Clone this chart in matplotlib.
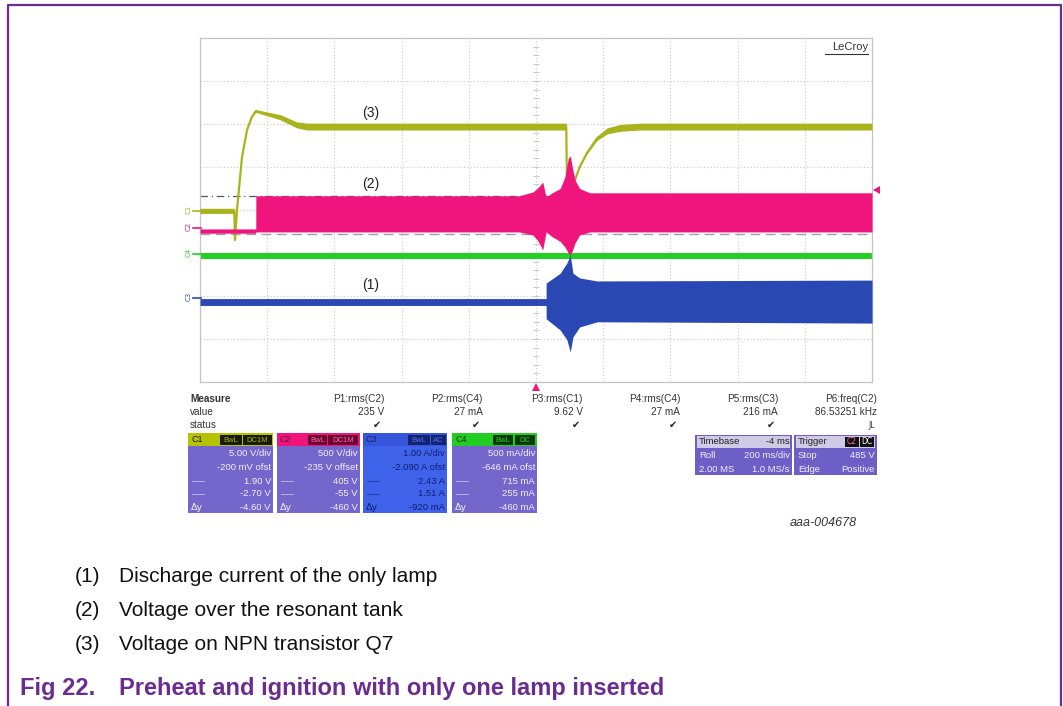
import matplotlib
matplotlib.use('Agg')
import matplotlib.pyplot as plt
from matplotlib.patches import Rectangle, Polygon
from matplotlib import font_manager

# scope traces, in screen divisions (x 0..10, y 0..8)
# (3) C1: voltage on NPN transistor Q7
c1_x = [0, 0.51, 0.52, 0.55, 0.625, 0.70, 0.77, 0.83, 1.19, 1.44, 1.59, 5.45,
        5.46, 5.48, 5.58, 5.65, 5.76, 5.91, 6.06, 6.25, 6.55, 10]
c1_y = [3.98, 3.98, 3.30, 4.00, 5.23, 5.86, 6.16, 6.30, 6.16, 5.98, 5.94, 5.94,
        4.74, 4.58, 4.70, 5.00, 5.33, 5.67, 5.84, 5.91, 5.94, 5.94]
c1_noise = [0.06, 0.06, 0, 0, 0, 0, 0.01, 0.03, 0.06, 0.07, 0.08, 0.08,
            0, 0, 0, 0, 0.02, 0.05, 0.07, 0.08, 0.08, 0.08]

# (2) C2: voltage over the resonant tank (envelope)
c2_x = [0, 0.83, 0.831, 4.75, 4.955, 5.03, 5.10, 5.15, 5.24, 5.36, 5.43, 5.48,
        5.51, 5.54, 5.58, 5.65, 5.80, 10]
c2_top = [3.56, 3.56, 4.33, 4.33, 4.42, 4.52, 4.65, 4.30, 4.40, 4.50, 4.77, 5.20,
          5.26, 5.00, 4.70, 4.50, 4.40, 4.40]
c2_bot = [3.46, 3.46, 3.49, 3.49, 3.42, 3.28, 3.07, 3.49, 3.38, 3.27, 3.14, 3.00,
          2.95, 3.05, 3.23, 3.42, 3.49, 3.49]

# C4 (green)
c4_x = [0, 10]
c4_top = [3.01, 3.01]
c4_bot = [2.87, 2.87]

# (1) C3: discharge current of the only lamp (envelope)
c3_x = [0, 5.15, 5.151, 5.36, 5.46, 5.51, 5.55, 5.65, 5.91, 10]
c3_top = [1.94, 1.94, 2.30, 2.53, 2.77, 2.95, 2.53, 2.42, 2.35, 2.37]
c3_bot = [1.78, 1.78, 1.47, 1.21, 0.98, 0.70, 1.05, 1.28, 1.40, 1.37]

# measurement table
meas_names = ['P1:rms(C2)', 'P2:rms(C4)', 'P3:rms(C1)', 'P4:rms(C4)', 'P5:rms(C3)', 'P6:freq(C2)']
meas_values = ['235 V', '27 mA', '9.62 V', '27 mA', '216 mA', '86.53251 kHz']

chan_rows = {
    'C1': ['5.00 V/div', '-200 mV ofst', '1.90 V', '-2.70 V', '-4.60 V'],
    'C2': ['500 V/div', '-235 V offset', '405 V', '-55 V', '-460 V'],
    'C3': ['1.00 A/div', '-2.090 A ofst', '2.43 A', '1.51 A', '-920 mA'],
    'C4': ['500 mA/div', '-646 mA ofst', '715 mA', '255 mA', '-460 mA'],
}

captions = ['Discharge current of the only lamp', 'Voltage over the resonant tank',
            'Voltage on NPN transistor Q7']

YEL = '#a9b41c'
PINK = '#f0157c'
GREEN = '#22d022'
BLUE = '#2a48b4'
PURPLE = '#6a2c91'

names = [f.name for f in font_manager.fontManager.ttflist]
narrow = 'Liberation Sans Narrow' if 'Liberation Sans Narrow' in names else 'Liberation Sans'
cap_size = 17 if narrow == 'Liberation Sans Narrow' else 15
title_size = 20 if narrow == 'Liberation Sans Narrow' else 17

W, H = 1063, 706
fig = plt.figure(figsize=(W / 100, H / 100), dpi=100)


def px_rect(l, t, r, b):
    return [l / W, 1 - b / H, (r - l) / W, (b - t) / H]


# ---- scope screen ----
ax = fig.add_axes(px_rect(200, 38, 872, 382))
ax.set_xlim(0, 10)
ax.set_ylim(0, 8)
ax.set_xticks([])
ax.set_yticks([])
for s in ax.spines.values():
    s.set_color('#c4c4c4')
    s.set_linewidth(0.9)
for i in range(1, 10):
    ax.axvline(i, color='#c8c8c8', lw=0.8, ls=(0, (1, 2)), zorder=0)
for i in range(1, 8):
    ax.axhline(i, color='#c8c8c8', lw=0.8, ls=(0, (1, 2)), zorder=0)
ax.hlines([k * 0.2 for k in range(41)], 4.95, 5.05, color='#c0c0c0', lw=0.6, zorder=0)

# cursors
ax.axhline(4.33, color='#555555', lw=0.9, ls=(0, (6, 3, 1, 3)), zorder=1)
ax.axhline(3.44, color='#a0a0a0', lw=1.0, ls=(0, (7, 4)), zorder=1)

ax.fill_between(c4_x, c4_bot, c4_top, color=GREEN, lw=0, zorder=2)
ax.fill_between(c3_x, c3_bot, c3_top, color=BLUE, lw=0, zorder=3)
ax.plot(c1_x, c1_y, color=YEL, lw=1.6, zorder=4)
ax.fill_between(c1_x, [y - n for y, n in zip(c1_y, c1_noise)],
                [y + n for y, n in zip(c1_y, c1_noise)], color=YEL, lw=0, zorder=4)
ax.fill_between(c2_x, c2_bot, c2_top, color=PINK, lw=0, zorder=5)

# ---- overlay in pixel coordinates ----
ov = fig.add_axes([0, 0, 1, 1])
ov.set_xlim(0, W)
ov.set_ylim(H, 0)
ov.axis('off')

# page frame
ov.plot([8, 8, 1061, 1061], [706, 5, 5, 706], color=PURPLE, lw=1.6)

# trace labels
for lab, y in [('(3)', 113), ('(2)', 184), ('(1)', 285)]:
    ov.text(371, y, lab, fontsize=10, ha='center', va='center', color='#222222',
            family='Liberation Sans')
ov.text(868, 47, 'LeCroy', fontsize=8, ha='right', va='center', color='#333333',
        family='Liberation Sans')
ov.plot([825, 868], [54, 54], color='#333333', lw=0.8)

# channel markers on the left
for lab, y, c in [('C1', 209, YEL), ('C2', 226, PINK), ('C4', 252, GREEN), ('C3', 296, BLUE)]:
    ov.text(189, y, lab, fontsize=5, rotation=90, ha='center', va='center', color=c)
    ov.plot([193, 201], [y + 2, y + 2], color=c, lw=1.2)

# trigger markers
ov.add_patch(Polygon([[873, 190], [880, 186], [880, 194]], closed=True, color=PINK, lw=0))
ov.add_patch(Polygon([[536, 383], [532, 391], [540, 391]], closed=True, color=PINK, lw=0))

# measurement table
mfont = dict(fontsize=7.2, color='#333333', family='Liberation Sans', va='center')
ov.text(190, 399, 'Measure', fontweight='bold', **mfont)
ov.text(190, 412, 'value', **mfont)
ov.text(190, 425, 'status', **mfont)
col_right = [384, 483, 583, 680, 778, 877]
for xr, nm, val in zip(col_right, meas_names, meas_values):
    ov.text(xr, 399, nm, ha='right', **mfont)
    ov.text(xr, 412, val, ha='right', **mfont)
    if nm.startswith('P6'):
        ov.text(xr - 2, 425, 'JL', ha='right', fontsize=5.5, color='#333333', va='center')
    else:
        ov.text(xr - 3, 425, '\u2714', ha='right', fontsize=7, color='#222222', va='center',
                family='DejaVu Sans')


def chan_box(x0, x1, name, head, body, txt, tag_bg, tag_fg, tags, tag_x):
    ov.add_patch(Rectangle((x0, 433), x1 - x0, 80, color=body, lw=0))
    ov.add_patch(Rectangle((x0, 433), x1 - x0, 13, color=head, lw=0))
    ov.text(x0 + 3, 440, name, fontsize=6.5, color=tag_bg, va='center', family='Liberation Sans')
    for t, (a, b) in zip(tags, tag_x):
        ov.add_patch(Rectangle((a, 435), b - a, 10, color=tag_bg, lw=0))
        ov.text((a + b) / 2, 440, t, fontsize=5.5, color=tag_fg, ha='center', va='center',
                family='Liberation Sans')
    for k, (row, y) in enumerate(zip(chan_rows[name], [454, 467, 481, 494, 507])):
        ov.text(x1 - 2, y, row, fontsize=6.8, color=txt, ha='right', va='center',
                family='Liberation Sans')
        if k in (2, 3):
            ov.plot([x0 + 4, x0 + 16], [y, y], color=txt, lw=0.6, alpha=0.6)
    ov.text(x0 + 3, 507, '\u0394y', fontsize=6.8, color=txt, va='center', family='DejaVu Sans')


BOXP = '#7566cc'
chan_box(188, 273, 'C1', '#b6c300', BOXP, '#f2f0ff', '#1a1a00', YEL, ['BwL', 'DC1M'],
         [(220, 242), (243, 272)])
chan_box(277, 360, 'C2', PINK, BOXP, '#f2f0ff', '#6a0030', '#ff6ab0', ['BwL', 'DC1M'],
         [(308, 327), (328, 358)])
chan_box(363, 447, 'C3', '#3556d8', '#3f62ea', '#102070', '#14246e', '#4a70ff', ['BwL', 'AC'],
         [(408, 430), (431, 446)])
chan_box(452, 537, 'C4', '#22cc22', BOXP, '#f2f0ff', '#063806', GREEN, ['BwL', 'DC'],
         [(493, 513), (515, 535)])

# timebase / trigger
tfont = dict(fontsize=6.8, va='center', family='Liberation Sans')
ov.add_patch(Rectangle((695, 435), 97, 40, color='#6e5fc6', lw=0))
ov.add_patch(Rectangle((697, 436), 93, 12, color='#cfcbe6', lw=0))
ov.text(699, 442, 'Timebase', color='#222222', **tfont)
ov.text(790, 442, '-4 ms', ha='right', color='#222222', **tfont)
ov.text(699, 456, 'Roll', color='#f0eeff', **tfont)
ov.text(790, 456, '200 ms/div', ha='right', color='#f0eeff', **tfont)
ov.text(699, 469, '2.00 MS', color='#f0eeff', **tfont)
ov.text(790, 469, '1.0 MS/s', ha='right', color='#f0eeff', **tfont)

ov.add_patch(Rectangle((794, 435), 83, 40, color='#6e5fc6', lw=0))
ov.add_patch(Rectangle((796, 436), 79, 12, color='#cfcbe6', lw=0))
ov.text(798, 442, 'Trigger', color='#222222', **tfont)
ov.add_patch(Rectangle((845, 437), 14, 10, color='#111111', lw=0))
ov.text(852, 442, 'C2', fontsize=5.5, color='#ff6ab0', ha='center', va='center')
ov.add_patch(Rectangle((860, 437), 14, 10, color='#111111', lw=0))
ov.text(867, 442, 'DC', fontsize=5.5, color='#ffffff', ha='center', va='center')
ov.text(798, 456, 'Stop', color='#f0eeff', **tfont)
ov.text(875, 456, '485 V', ha='right', color='#f0eeff', **tfont)
ov.text(798, 469, 'Edge', color='#f0eeff', **tfont)
ov.text(875, 469, 'Positive', ha='right', color='#f0eeff', **tfont)

ov.text(857, 523, 'aaa-004678', fontsize=9, style='italic', ha='right', va='center',
        color='#333333', family='Liberation Sans')

# captions
for i, (cap, y) in enumerate(zip(captions, [577, 610, 645])):
    ov.text(75, y, '(%d)' % (i + 1), fontsize=cap_size, va='center', color='#111111', family=narrow)
    ov.text(119, y, cap, fontsize=cap_size, va='center', color='#111111', family=narrow)
ov.text(20, 688, 'Fig 22.', fontsize=title_size, fontweight='bold', va='center', color=PURPLE,
        family=narrow)
ov.text(119, 688, 'Preheat and ignition with only one lamp inserted', fontsize=title_size,
        fontweight='bold', va='center', color=PURPLE, family=narrow)

fig.savefig('out.png', dpi=100)
